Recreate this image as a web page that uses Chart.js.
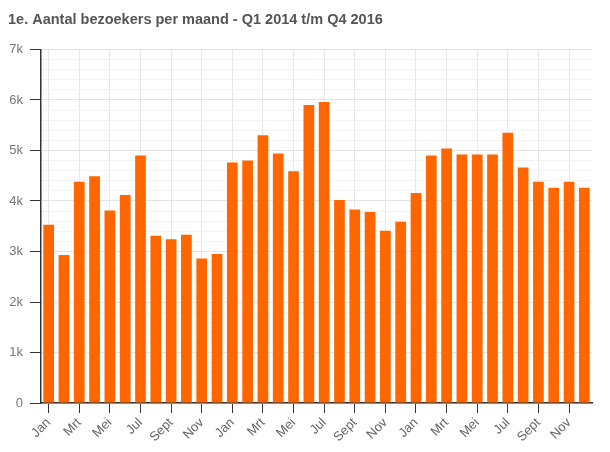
<!DOCTYPE html>
<html>
<head>
<meta charset="utf-8">
<script src="https://cdn.jsdelivr.net/npm/chart.js@4/dist/chart.umd.min.js"></script>
<style>
    html, body { margin: 0; padding: 0; background: #fff; }
    #wrap { width: 610px; height: 452px; }
</style>
</head>
<body>
<div id="wrap"><canvas id="visitorsChart"></canvas></div>
<script>
// Maanden (3 jaar, Q1 2014 t/m Q4 2016)
const monthNames = ['Jan', 'Feb', 'Mrt', 'Apr', 'Mei', 'Jun', 'Jul', 'Aug', 'Sept', 'Okt', 'Nov', 'Dec'];
const years = [2014, 2015, 2016];

// Bezoekers per maand
const visitors2014 = [3530, 2930, 4380, 4490, 3810, 4120, 4900, 3310, 3240, 3330, 2860, 2950];
const visitors2015 = [4760, 4800, 5300, 4940, 4590, 5900, 5960, 4020, 3830, 3780, 3410, 3590];
const visitors2016 = [4160, 4900, 5040, 4920, 4920, 4920, 5350, 4660, 4380, 4260, 4380, 4260];

const yTickValues = [0, 1000, 2000, 3000, 4000, 5000, 6000, 7000];

const labels = [];
years.forEach(() => monthNames.forEach(m => labels.push(m)));
const data = visitors2014.concat(visitors2015, visitors2016);

const ctx = document.getElementById('visitorsChart').getContext('2d');

new Chart(ctx, {
    type: 'bar',
    data: {
        labels: labels,
        datasets: [{
            label: 'Bezoekers',
            data: data,
            backgroundColor: '#ff6600',
            borderWidth: 0,
            categoryPercentage: 1,
            barPercentage: 0.7
        }]
    },
    options: {
        responsive: true,
        maintainAspectRatio: false,
        animation: false,
        layout: {
            padding: { left: 8, right: 18, top: 8, bottom: 5 }
        },
        plugins: {
            legend: { display: false },
            tooltip: { enabled: false },
            title: {
                display: true,
                text: '1e. Aantal bezoekers per maand - Q1 2014 t/m Q4 2016',
                align: 'start',
                color: '#555',
                font: { family: '"Liberation Sans", Arial, sans-serif', size: 14.5, weight: 'bold' },
                padding: { top: 3, bottom: 21 }
            }
        },
        scales: {
            x: {
                offset: true,
                border: { color: '#333', width: 1.5 },
                grid: {
                    offset: false,
                    color: '#e8e8e8',
                    tickColor: '#333',
                    tickLength: 10,
                    drawOnChartArea: true
                },
                ticks: {
                    autoSkip: false,
                    minRotation: 45,
                    maxRotation: 45,
                    padding: 2,
                    color: '#666',
                    font: { family: '"Liberation Sans", Arial, sans-serif', size: 13 },
                    callback: function(value, index) {
                        return index % 2 === 0 ? this.getLabelForValue(value) : null;
                    }
                },
                afterFit: function(scale) {
                    // the rotated first label may hang left of the plot, like the original
                    scale.paddingLeft = 0;
                    scale.paddingRight = 0;
                }
            },
            y: {
                min: 0,
                max: 7000,
                border: { color: '#333', width: 1.5 },
                grid: {
                    color: c => (c.tick && c.tick.value % 1000 === 0) ? '#e3e3e3' : '#f3f3f3',
                    tickColor: c => (c.tick && c.tick.value % 1000 === 0) ? '#333' : 'rgba(0,0,0,0)',
                    tickLength: 11
                },
                ticks: {
                    stepSize: 200,
                    autoSkip: false,
                    padding: 7,
                    color: '#777',
                    font: { family: '"Liberation Sans", Arial, sans-serif', size: 13 },
                    callback: function(value) {
                        if (!yTickValues.includes(value)) return '';
                        return value === 0 ? '0' : (value / 1000) + 'k';
                    }
                },
                afterFit: function(scale) {
                    scale.width = 33;
                }
            }
        }
    }
});
</script>
</body>
</html>
